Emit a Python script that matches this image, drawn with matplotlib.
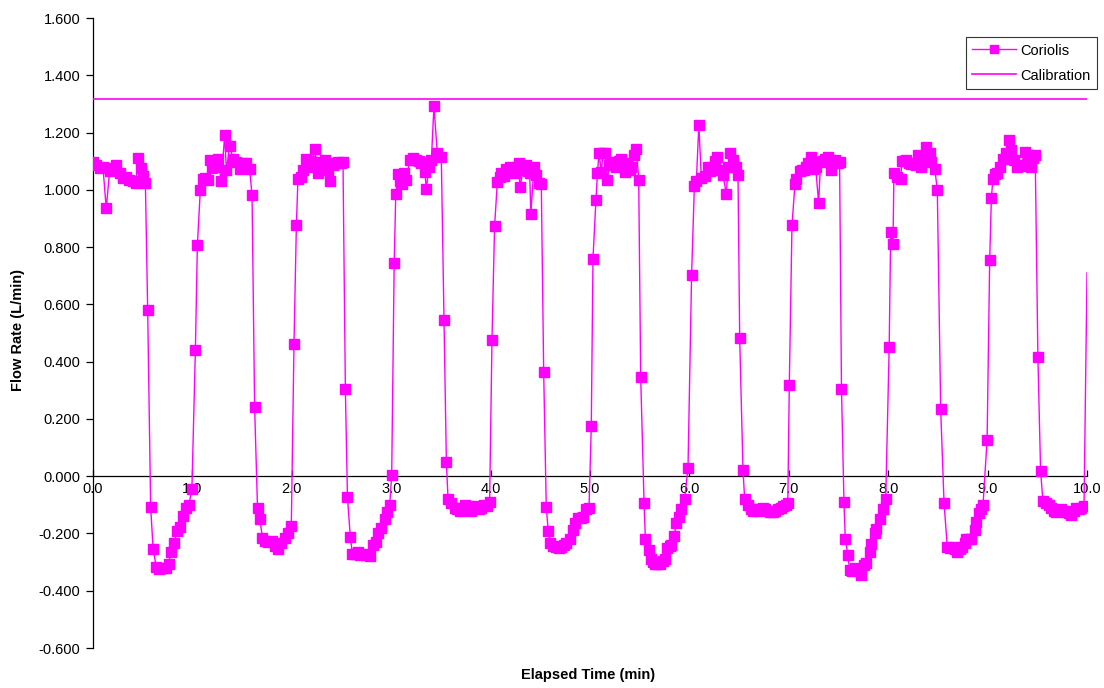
import matplotlib
matplotlib.use("Agg")
import matplotlib.pyplot as plt
from matplotlib.ticker import FormatStrFormatter

plt.rcParams['font.family'] = ['Liberation Sans', 'DejaVu Sans']

# Elapsed time (min) and Coriolis flow rate (L/min)
time_min = [
    0.000, 0.033, 0.067, 0.100, 0.133, 0.167, 0.200, 0.233, 0.267, 0.300, 0.333, 0.367, 0.400, 0.433, 0.450,
    0.480, 0.503, 0.527, 0.550, 0.580, 0.605, 0.637, 0.667, 0.700, 0.733, 0.760, 0.785, 0.815, 0.849, 0.880,
    0.905, 0.935, 0.965, 0.995, 1.030, 1.050, 1.080, 1.107, 1.130, 1.157, 1.174, 1.200, 1.224, 1.257, 1.290,
    1.325, 1.342, 1.375, 1.409, 1.442, 1.476, 1.509, 1.542, 1.576, 1.600, 1.626, 1.655, 1.677, 1.705, 1.735,
    1.765, 1.800, 1.830, 1.861, 1.894, 1.928, 1.961, 1.995, 2.022, 2.046, 2.062, 2.090, 2.110, 2.146, 2.180,
    2.205, 2.230, 2.263, 2.297, 2.330, 2.364, 2.380, 2.414, 2.440, 2.464, 2.490, 2.515, 2.539, 2.560, 2.589,
    2.610, 2.640, 2.666, 2.690, 2.716, 2.750, 2.783, 2.817, 2.850, 2.870, 2.900, 2.934, 2.961, 2.985, 3.005,
    3.030, 3.046, 3.068, 3.090, 3.109, 3.130, 3.152, 3.186, 3.220, 3.253, 3.280, 3.303, 3.337, 3.354, 3.377,
    3.404, 3.430, 3.464, 3.504, 3.531, 3.555, 3.572, 3.605, 3.638, 3.665, 3.689, 3.715, 3.739, 3.770, 3.806,
    3.830, 3.856, 3.880, 3.907, 3.935, 3.964, 3.990, 4.014, 4.040, 4.068, 4.090, 4.108, 4.130, 4.158, 4.192,
    4.215, 4.242, 4.265, 4.282, 4.296, 4.326, 4.359, 4.380, 4.393, 4.405, 4.436, 4.460, 4.485, 4.510, 4.534,
    4.560, 4.580, 4.600, 4.630, 4.661, 4.690, 4.711, 4.740, 4.761, 4.795, 4.828, 4.845, 4.879, 4.905, 4.929,
    4.962, 4.990, 5.013, 5.030, 5.060, 5.075, 5.090, 5.115, 5.130, 5.154, 5.175, 5.195, 5.215, 5.240, 5.265,
    5.290, 5.309, 5.330, 5.349, 5.376, 5.400, 5.416, 5.443, 5.466, 5.490, 5.510, 5.544, 5.557, 5.590, 5.610,
    5.630, 5.650, 5.680, 5.701, 5.730, 5.751, 5.778, 5.800, 5.818, 5.845, 5.869, 5.892, 5.919, 5.952, 5.986,
    6.022, 6.050, 6.070, 6.095, 6.120, 6.154, 6.187, 6.210, 6.237, 6.260, 6.281, 6.305, 6.338, 6.372, 6.388,
    6.405, 6.439, 6.472, 6.489, 6.506, 6.539, 6.556, 6.590, 6.620, 6.640, 6.665, 6.690, 6.715, 6.740, 6.765,
    6.791, 6.815, 6.841, 6.865, 6.892, 6.920, 6.942, 6.970, 6.990, 7.005, 7.032, 7.062, 7.076, 7.110, 7.130,
    7.153, 7.175, 7.193, 7.220, 7.244, 7.270, 7.300, 7.320, 7.340, 7.360, 7.394, 7.428, 7.450, 7.468, 7.490,
    7.511, 7.530, 7.555, 7.568, 7.595, 7.612, 7.640, 7.662, 7.695, 7.729, 7.760, 7.779, 7.813, 7.829, 7.863,
    7.880, 7.913, 7.947, 7.975, 8.010, 8.025, 8.048, 8.058, 8.090, 8.125, 8.139, 8.160, 8.182, 8.210, 8.233,
    8.260, 8.283, 8.300, 8.333, 8.360, 8.384, 8.417, 8.434, 8.468, 8.494, 8.528, 8.562, 8.595, 8.620, 8.652,
    8.675, 8.696, 8.720, 8.743, 8.770, 8.786, 8.815, 8.837, 8.870, 8.887, 8.910, 8.935, 8.954, 8.995, 9.021,
    9.038, 9.054, 9.075, 9.098, 9.120, 9.155, 9.188, 9.212, 9.238, 9.265, 9.298, 9.320, 9.339, 9.372, 9.405,
    9.420, 9.439, 9.460, 9.479, 9.506, 9.533, 9.556, 9.590, 9.615, 9.640, 9.665, 9.691, 9.715, 9.741, 9.765,
    9.791, 9.815, 9.841, 9.865, 9.892, 9.920, 9.942, 9.970, 10.000,
]
coriolis = [
    1.097, 1.085, 1.075, 1.080, 0.935, 1.065, 1.075, 1.085, 1.060, 1.040, 1.045, 1.035, 1.030, 1.025, 1.112,
    1.075, 1.050, 1.025, 0.580, -0.107, -0.256, -0.317, -0.325, -0.322, -0.320, -0.305, -0.264, -0.232, -0.190, -0.178,
    -0.140, -0.110, -0.100, -0.045, 0.440, 0.807, 1.001, 1.039, 1.040, 1.036, 1.103, 1.075, 1.080, 1.106, 1.031,
    1.191, 1.068, 1.152, 1.109, 1.098, 1.074, 1.092, 1.092, 1.072, 0.981, 0.240, -0.110, -0.148, -0.215, -0.225,
    -0.230, -0.228, -0.245, -0.255, -0.235, -0.215, -0.200, -0.175, 0.461, 0.876, 1.039, 1.045, 1.068, 1.109, 1.100,
    1.080, 1.144, 1.059, 1.098, 1.103, 1.068, 1.031, 1.086, 1.095, 1.098, 1.095, 1.098, 0.303, -0.074, -0.214,
    -0.270, -0.270, -0.265, -0.275, -0.272, -0.275, -0.278, -0.241, -0.229, -0.200, -0.180, -0.150, -0.125, -0.100, 0.005,
    0.743, 0.985, 1.055, 1.030, 1.022, 1.060, 1.034, 1.103, 1.110, 1.105, 1.100, 1.092, 1.063, 1.004, 1.080,
    1.103, 1.292, 1.127, 1.115, 0.545, 0.050, -0.080, -0.095, -0.110, -0.115, -0.120, -0.110, -0.100, -0.115, -0.120,
    -0.110, -0.105, -0.115, -0.110, -0.100, -0.105, -0.090, 0.477, 0.873, 1.028, 1.045, 1.059, 1.050, 1.074, 1.080,
    1.065, 1.059, 1.080, 1.092, 1.010, 1.068, 1.086, 1.065, 1.057, 0.917, 1.080, 1.051, 1.025, 1.022, 0.364,
    -0.107, -0.191, -0.233, -0.245, -0.249, -0.250, -0.249, -0.240, -0.235, -0.218, -0.189, -0.165, -0.145, -0.145, -0.142,
    -0.116, -0.110, 0.175, 0.760, 0.966, 1.059, 1.127, 1.063, 1.127, 1.127, 1.036, 1.085, 1.098, 1.090, 1.080,
    1.100, 1.109, 1.080, 1.063, 1.092, 1.070, 1.080, 1.121, 1.144, 1.036, 0.347, -0.095, -0.218, -0.258, -0.288,
    -0.300, -0.305, -0.308, -0.305, -0.295, -0.288, -0.250, -0.245, -0.241, -0.209, -0.165, -0.142, -0.113, -0.078, 0.030,
    0.702, 1.013, 1.030, 1.226, 1.043, 1.047, 1.080, 1.065, 1.080, 1.100, 1.115, 1.068, 1.051, 0.985, 1.080,
    1.127, 1.103, 1.080, 1.051, 0.481, 0.023, -0.080, -0.100, -0.115, -0.120, -0.115, -0.120, -0.115, -0.110, -0.115,
    -0.120, -0.125, -0.125, -0.120, -0.115, -0.110, -0.105, -0.100, -0.095, 0.318, 0.876, 1.020, 1.039, 1.066, 1.070,
    1.068, 1.080, 1.092, 1.115, 1.074, 1.080, 0.954, 1.098, 1.100, 1.109, 1.115, 1.068, 1.100, 1.103, 1.095,
    1.098, 0.306, -0.090, -0.218, -0.276, -0.328, -0.330, -0.322, -0.328, -0.345, -0.310, -0.303, -0.264, -0.237, -0.200,
    -0.186, -0.148, -0.116, -0.080, 0.452, 0.853, 0.810, 1.059, 1.045, 1.039, 1.101, 1.100, 1.103, 1.095, 1.089,
    1.090, 1.086, 1.121, 1.080, 1.109, 1.148, 1.127, 1.098, 1.074, 1.001, 0.233, -0.095, -0.249, -0.250, -0.249,
    -0.255, -0.264, -0.255, -0.249, -0.235, -0.218, -0.220, -0.218, -0.189, -0.159, -0.130, -0.115, -0.100, 0.128, 0.754,
    0.973, 1.039, 1.055, 1.059, 1.080, 1.109, 1.127, 1.173, 1.138, 1.103, 1.080, 1.085, 1.082, 1.132, 1.121,
    1.095, 1.078, 1.110, 1.121, 0.417, 0.019, -0.085, -0.095, -0.100, -0.110, -0.120, -0.125, -0.120, -0.115, -0.120,
    -0.125, -0.130, -0.135, -0.120, -0.110, -0.115, -0.110, -0.105, 0.710,
]
calibration_time = [0.0, 10.0]
calibration_value = [1.318, 1.318]

series_names = ["Coriolis", "Calibration"]
x_ticks = [0, 1, 2, 3, 4, 5, 6, 7, 8, 9, 10]
y_ticks = [-0.6, -0.4, -0.2, 0.0, 0.2, 0.4, 0.6, 0.8, 1.0, 1.2, 1.4, 1.6]

MAGENTA = "#FF00FF"
W, H = 1104, 688
fig = plt.figure(figsize=(W / 100, H / 100), dpi=100)
ax = fig.add_axes([93 / W, 1 - 648 / H, (1087 - 93) / W, (648 - 18) / H])

n = len(time_min)
ax.plot(time_min, coriolis, color=MAGENTA, lw=1.0, marker='s', markersize=6.5,
        markerfacecolor=MAGENTA, markeredgecolor=MAGENTA,
        markevery=list(range(n - 1)), label=series_names[0], zorder=3)
ax.plot(calibration_time, calibration_value, color=MAGENTA, lw=1.2,
        label=series_names[1], zorder=3)

ax.set_xlim(0, 10)
ax.set_ylim(-0.6, 1.6)
ax.set_xticks(x_ticks)
ax.set_xticklabels([f"{v:.1f}" for v in x_ticks])
ax.set_yticks(y_ticks)
ax.yaxis.set_major_formatter(FormatStrFormatter('%.3f'))

for s in ['top', 'right']:
    ax.spines[s].set_visible(False)
ax.spines['bottom'].set_position(('data', 0))
ax.spines['left'].set_linewidth(0.9)
ax.spines['bottom'].set_linewidth(0.9)
ax.set_axisbelow(True)
ax.tick_params(axis='y', direction='out', length=5, width=0.9, labelsize=10.5, pad=4)
ax.tick_params(axis='x', direction='in', length=4, width=0.9, labelsize=10.5, pad=4)

fig.text(18 / W, 1 - 330 / H, "Flow Rate (L/min)", rotation=90, ha='center', va='center',
         fontsize=10.5, fontweight='bold')
fig.text(588 / W, 1 - 675 / H, "Elapsed Time (min)", ha='center', va='center',
         fontsize=10.5, fontweight='bold')

leg = fig.legend(loc='upper right', bbox_to_anchor=(1097 / W, 1 - 37 / H),
                 fontsize=10.5, frameon=True, fancybox=False, edgecolor='black',
                 borderpad=0.45, handlelength=3.0, labelspacing=0.75, handletextpad=0.3,
                 borderaxespad=0)
leg.get_frame().set_linewidth(0.8)
for h in leg.legend_handles:
    h.set_markersize(6)

fig.savefig("out.png", dpi=100)
